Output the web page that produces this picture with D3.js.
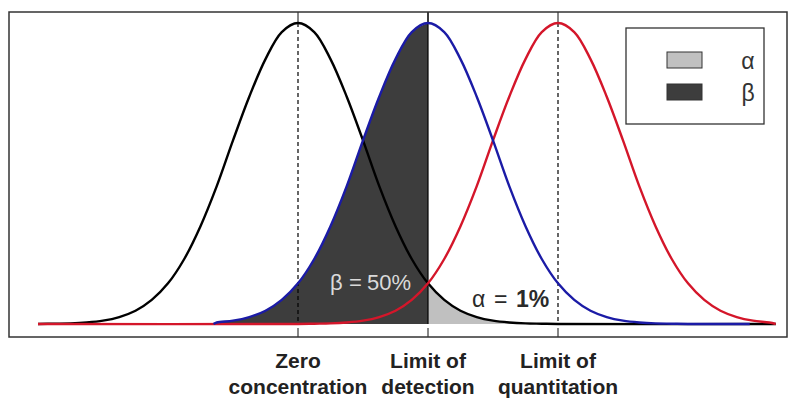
<!DOCTYPE html>
<html>
<head>
<meta charset="utf-8">
<script src="https://cdn.jsdelivr.net/npm/d3@7"></script>
<style>
  body { margin: 0; background: #fff; }
  svg { display: block; font-family: "Liberation Sans", Arial, sans-serif; }
</style>
</head>
<body>
<script>
// LOD / LOQ sketch: three identical bell curves, two sd apart

// positions of the three distributions (in sd units from zero)
var centers = [0, 2, 4];
var curveColors = ["#000000", "#1b1ba6", "#d4162a"];
// how far each curve line is drawn (sd units, absolute)
var curveStart = [-4, -1.3, -4];
var curveEnd = [7.35, 6.95, 7.35];

// bell shape: offset (sd) -> relative height
var shapeOffsets = [0, 0.25, 0.5, 0.75, 1, 1.25, 1.5, 1.75, 2, 2.25, 2.5, 2.75, 3, 3.25, 3.5, 3.75, 4];
var shapeHeights = [1, 0.97, 0.88, 0.755, 0.61, 0.458, 0.325, 0.216, 0.135, 0.08, 0.044, 0.023, 0.011, 0.005, 0.002, 0.001, 0];

// tick labels under the axis
var tickLabels = [["Zero", "concentration"], ["Limit of", "detection"], ["Limit of", "quantitation"]];
var legendKeys = ["\u03b1", "\u03b2"];
var legendFills = ["#c0c0c0", "#3d3d3d"];

var W = 791, H = 398;
var box = {left: 9, top: 12, right: 787, bottom: 337};

var x = d3.scaleLinear().domain([0, 4]).range([298, 558]);
var y = d3.scaleLinear().domain([0, 1]).range([324, 23]);

var svg = d3.select("body").append("svg")
    .attr("width", W)
    .attr("height", H);

// points for curve k between from and to: read samples plus flat ends
function curvePoints(k, from, to) {
  var c = centers[k], pts = [];
  var n = shapeOffsets.length;
  for (var i = n - 1; i > 0; i--) pts.push([c - shapeOffsets[i], shapeHeights[i]]);
  for (var j = 0; j < n; j++) pts.push([c + shapeOffsets[j], shapeHeights[j]]);
  pts = pts.filter(function(p) { return p[0] >= from && p[0] <= to; });
  if (pts[0][0] > from) pts.unshift([from, 0]);
  if (pts[pts.length - 1][0] < to) pts.push([to, 0]);
  return pts;
}

var line = d3.line()
    .x(function(d) { return x(d[0]); })
    .y(function(d) { return y(d[1]); })
    .curve(d3.curveCatmullRom.alpha(0.5));

var area = d3.area()
    .x(function(d) { return x(d[0]); })
    .y0(y(0))
    .y1(function(d) { return y(d[1]); })
    .curve(d3.curveCatmullRom.alpha(0.5));

// beta: under the LOD curve left of its centre
svg.append("path")
    .attr("d", area(curvePoints(1, curveStart[1], centers[1])))
    .attr("fill", legendFills[1]);

// alpha: under the blank curve right of LOD
svg.append("path")
    .attr("d", area(curvePoints(0, centers[1], curveEnd[0])))
    .attr("fill", legendFills[0]);

// labels inside the areas
var bt = svg.append("text")
    .attr("y", 290)
    .attr("font-size", 22)
    .attr("fill", "#dadada");
bt.append("tspan").attr("x", 330).text("\u03b2");
bt.append("tspan").attr("x", 349).text("=");
bt.append("tspan").attr("x", 367).text("50%");

var at = svg.append("text")
    .attr("y", 307)
    .attr("font-size", 23)
    .attr("fill", "#2a2a2a");
at.append("tspan").attr("x", 472).text("\u03b1");
at.append("tspan").attr("x", 494).text("=");
at.append("tspan").attr("x", 516).attr("font-weight", "bold").text("1%");

// vertical guides
centers.forEach(function(c, i) {
  svg.append("line")
      .attr("x1", x(c)).attr("x2", x(c))
      .attr("y1", i === 1 ? box.top : y(1))
      .attr("y2", y(0))
      .attr("stroke", "#000")
      .attr("stroke-width", 1.2)
      .attr("stroke-dasharray", i === 1 ? null : "4,3");
  // ticks top and bottom, pointing in
  svg.append("line")
      .attr("x1", x(c)).attr("x2", x(c))
      .attr("y1", box.top).attr("y2", box.top + 10)
      .attr("stroke", "#111");
  svg.append("line")
      .attr("x1", x(c)).attr("x2", x(c))
      .attr("y1", box.bottom - 9).attr("y2", box.bottom)
      .attr("stroke", "#111");
});

// the three curves: blank, then LOQ, then LOD on top
[0, 2, 1].forEach(function(k) {
  svg.append("path")
      .attr("d", line(curvePoints(k, curveStart[k], curveEnd[k])))
      .attr("fill", "none")
      .attr("stroke", curveColors[k])
      .attr("stroke-width", 2.4);
});

// frame
svg.append("rect")
    .attr("x", box.left).attr("y", box.top)
    .attr("width", box.right - box.left)
    .attr("height", box.bottom - box.top)
    .attr("fill", "none")
    .attr("stroke", "#333")
    .attr("stroke-width", 1.5);

// tick labels
tickLabels.forEach(function(lines, i) {
  var t = svg.append("text")
      .attr("text-anchor", "middle")
      .attr("font-size", 21)
      .attr("font-weight", "bold")
      .attr("fill", "#222");
  lines.forEach(function(s, j) {
    t.append("tspan")
        .attr("x", x(centers[i]))
        .attr("y", 368 + j * 26)
        .text(s);
  });
});

// legend
var lg = svg.append("g");
lg.append("rect")
    .attr("x", 626).attr("y", 28)
    .attr("width", 138).attr("height", 96)
    .attr("fill", "#fff")
    .attr("stroke", "#333")
    .attr("stroke-width", 1.3);
legendKeys.forEach(function(k, i) {
  lg.append("rect")
      .attr("x", 667).attr("y", 52 + i * 32)
      .attr("width", 35).attr("height", 16)
      .attr("fill", legendFills[i])
      .attr("stroke", "#333");
  lg.append("text")
      .attr("x", 748).attr("y", 69 + i * 32)
      .attr("text-anchor", "middle")
      .attr("font-size", 23)
      .attr("fill", "#333")
      .text(k);
});
</script>
</body>
</html>
